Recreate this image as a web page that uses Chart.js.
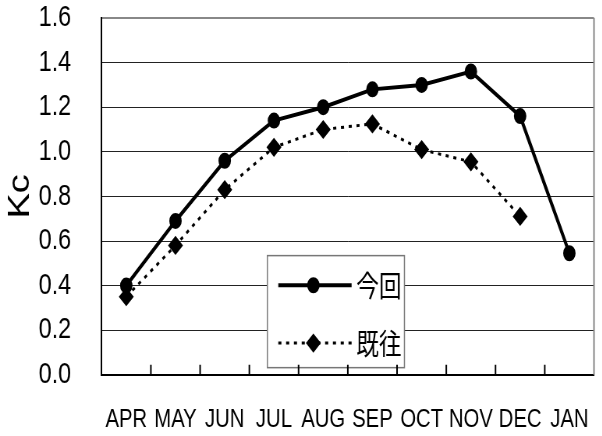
<!DOCTYPE html>
<html>
<head>
<meta charset="utf-8">
<script src="https://cdn.jsdelivr.net/npm/chart.js@4/dist/chart.umd.min.js"></script>
<style>
  html, body { margin: 0; padding: 0; background: #fff; overflow: hidden; }
  #wrap { width: 772px; height: 436px; transform: scale(0.78, 1); transform-origin: 0 0; }
</style>
</head>
<body>
<div id="wrap"><canvas id="kcChart" width="772" height="436"></canvas></div>
<script>
const months = ["APR", "MAY", "JUN", "JUL", "AUG", "SEP", "OCT", "NOV", "DEC", "JAN"];
const kcNow = [0.40, 0.69, 0.96, 1.14, 1.20, 1.28, 1.30, 1.36, 1.16, 0.545];
const kcPast = [0.35, 0.58, 0.83, 1.02, 1.10, 1.125, 1.01, 0.955, 0.71, null];
const seriesNames = ["今回", "既往"];
const yTicks = [0.0, 0.2, 0.4, 0.6, 0.8, 1.0, 1.2, 1.4, 1.6];

const latinFont = "'Liberation Sans', Arial, sans-serif";
const cjkFont = "'Noto Sans CJK JP', sans-serif";

// frame on the right + small inward ticks between months
const framePlugin = {
  id: "frame",
  afterDraw(chart) {
    const { ctx, chartArea } = chart;
    const x = chart.scales.x;
    ctx.save();
    ctx.strokeStyle = "#888";
    ctx.lineWidth = 2;
    ctx.beginPath();
    ctx.moveTo(chartArea.right, chartArea.top);
    ctx.lineTo(chartArea.right, chartArea.bottom);
    ctx.stroke();
    ctx.strokeStyle = "#000";
    ctx.lineWidth = 2;
    ctx.beginPath();
    for (let i = 1; i < months.length; i++) {
      const px = (x.getPixelForValue(i - 1) + x.getPixelForValue(i)) / 2;
      ctx.moveTo(px, chartArea.bottom);
      ctx.lineTo(px, chartArea.bottom - 10);
    }
    ctx.stroke();
    ctx.restore();
  }
};

// legend box inside the plot
const boxLegend = {
  id: "boxLegend",
  afterDatasetsDraw(chart) {
    const { ctx, chartArea } = chart;
    const w = chartArea.right - chartArea.left;
    const h = chartArea.bottom - chartArea.top;
    const left = chartArea.left + w * 0.3366;
    const right = chartArea.left + w * 0.615;
    const top = chartArea.top + h * 0.666;
    const bottom = chartArea.top + h * 0.98;
    const rows = [chartArea.top + h * 0.749, chartArea.top + h * 0.911];

    ctx.save();
    ctx.fillStyle = "#fff";
    ctx.fillRect(left, top, right - left, bottom - top);
    ctx.strokeStyle = "#777";
    ctx.lineWidth = 1.5;
    ctx.strokeRect(left, top, right - left, bottom - top);

    chart.data.datasets.forEach((ds, i) => {
      const y = rows[i];
      ctx.strokeStyle = ds.borderColor;
      ctx.lineWidth = ds.borderWidth;
      ctx.setLineDash(ds.borderDash || []);
      ctx.beginPath();
      ctx.moveTo(left + 14, y);
      ctx.lineTo(left + 108, y);
      ctx.stroke();
      ctx.setLineDash([]);
      Chart.helpers.drawPoint(ctx, {
        pointStyle: ds.pointStyle,
        radius: ds.pointRadius,
        rotation: 0,
        borderWidth: 1
      }, left + 59, y);
      ctx.fillStyle = ds.pointBackgroundColor;
      ctx.fill();
      ctx.fillStyle = "#000";
      ctx.font = "29px " + cjkFont;
      ctx.textBaseline = "middle";
      ctx.textAlign = "left";
      ctx.fillText(ds.label, left + 114, y + 1);
    });
    ctx.restore();
  }
};

const ctx = document.getElementById("kcChart").getContext("2d");

const myChart = new Chart(ctx, {
  type: "line",
  data: {
    labels: months,
    datasets: [
      {
        label: seriesNames[0],
        data: kcNow,
        borderColor: "#000",
        backgroundColor: "#000",
        pointBackgroundColor: "#000",
        pointBorderColor: "#000",
        borderWidth: 4,
        pointStyle: "circle",
        pointRadius: 6,
        tension: 0
      },
      {
        label: seriesNames[1],
        data: kcPast,
        borderColor: "#000",
        backgroundColor: "#000",
        pointBackgroundColor: "#000",
        pointBorderColor: "#000",
        borderWidth: 3,
        borderDash: [4, 6],
        pointStyle: "rectRot",
        pointRadius: 7.5,
        tension: 0,
        spanGaps: false
      }
    ]
  },
  options: {
    responsive: false,
    animation: false,
    devicePixelRatio: 1,
    layout: { padding: { left: 0, right: 3, top: 0, bottom: 1 } },
    plugins: {
      legend: { display: false },
      tooltip: { enabled: false }
    },
    scales: {
      x: {
        type: "category",
        offset: true,
        grid: {
          display: true,
          drawOnChartArea: false,
          drawTicks: true,
          tickLength: 29,
          tickColor: "rgba(0,0,0,0)"
        },
        border: { color: "#000", width: 2 },
        ticks: {
          color: "#000",
          font: { family: latinFont, size: 26 },
          padding: 0,
          maxRotation: 0,
          autoSkip: false
        }
      },
      y: {
        min: 0,
        max: 1.6,
        afterBuildTicks(scale) {
          scale.ticks = yTicks.map(v => ({ value: v }));
        },
        grid: {
          color: c => (c.tick && c.tick.value === 1.6 ? "#888" : "#222"),
          lineWidth: c => (c.tick && c.tick.value === 1.6 ? 2 : 1),
          drawTicks: true,
          tickLength: 39,
          tickColor: "rgba(0,0,0,0)"
        },
        border: { color: "#000", width: 2 },
        ticks: {
          color: "#000",
          font: { family: latinFont, size: 30 },
          padding: 0,
          autoSkip: false,
          callback: v => Number(v).toFixed(1)
        },
        title: {
          display: true,
          text: "Kc",
          color: "#000",
          font: { family: latinFont, size: 38 },
          padding: { top: 4, bottom: 0 }
        }
      }
    }
  },
  plugins: [framePlugin, boxLegend]
});
</script>
</body>
</html>
